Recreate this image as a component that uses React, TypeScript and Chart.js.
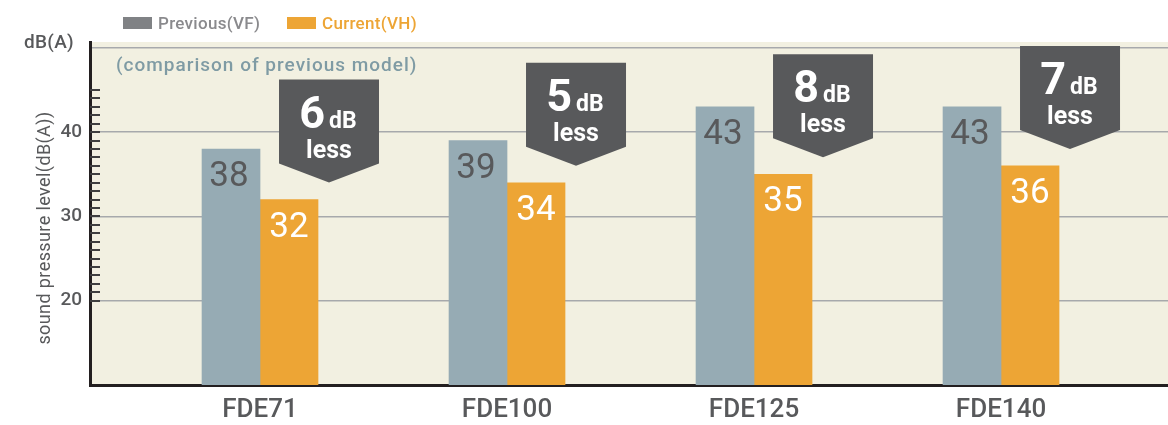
import React, { useEffect, useRef } from "react";
import { Chart, registerables } from "chart.js";

Chart.register(...registerables);

const categories = ["FDE71", "FDE100", "FDE125", "FDE140"];
const previousVF = [38, 39, 43, 43];
const currentVH = [32, 34, 35, 36];
const seriesNames = ["Previous(VF)", "Current(VH)"];
const yTickLabels = [20, 30, 40];
const minorTickRange = [20, 45];
const yUnit = "dB(A)";
const yTitle = "sound pressure level(dB(A))";
const subtitle = "(comparison of previous model)";

const FONT = "Roboto, 'Noto Sans', sans-serif";
const BG = "#f2f0e1";
const GREY_BAR = "#96abb4";
const ORANGE = "#eda535";
const DARK_TEXT = "#58595b";
const BADGE = "#58595b";

const overlayPlugin = {
  id: "overlay",
  beforeDraw(chart: any) {
    const { ctx, chartArea } = chart;
    ctx.save();
    ctx.fillStyle = BG;
    ctx.fillRect(chartArea.left, chartArea.top, chartArea.right - chartArea.left, chartArea.bottom - chartArea.top);
    ctx.restore();
  },
  afterDraw(chart: any) {
    const { ctx, chartArea } = chart;
    const xs = chart.scales.x;
    const ys = chart.scales.y;
    ctx.save();

    // minor ticks on y axis
    ctx.strokeStyle = "#3f3f40";
    ctx.lineWidth = 2;
    for (let v = minorTickRange[0]; v <= minorTickRange[1]; v++) {
      const y = Math.round(ys.getPixelForValue(v));
      ctx.beginPath();
      ctx.moveTo(chartArea.left, y);
      ctx.lineTo(chartArea.left + 10, y);
      ctx.stroke();
    }

    const setSpacing = (s: string) => {
      if ("letterSpacing" in ctx) (ctx as any).letterSpacing = s;
    };

    // legend
    ctx.textBaseline = "alphabetic";
    ctx.textAlign = "left";
    ctx.font = `500 17px ${FONT}`;
    setSpacing("0.3px");
    ctx.fillStyle = "#808285";
    ctx.fillRect(123, 17, 29, 12);
    ctx.fillStyle = "#8a8a8d";
    ctx.fillText(seriesNames[0], 158, 29);
    ctx.fillStyle = ORANGE;
    ctx.fillRect(287, 17, 29, 12);
    ctx.fillText(seriesNames[1], 322, 29);

    // unit label
    setSpacing("0.3px");
    ctx.font = `500 19px ${FONT}`;
    ctx.fillStyle = DARK_TEXT;
    ctx.fillText(yUnit, 24, 48);

    // subtitle
    setSpacing("1px");
    ctx.font = `500 19px ${FONT}`;
    ctx.fillStyle = "#7f9ba4";
    ctx.fillText(subtitle, 116, 71);

    // y title
    ctx.save();
    setSpacing("0.4px");
    ctx.translate(45, 228);
    ctx.rotate(-Math.PI / 2);
    ctx.textAlign = "center";
    ctx.textBaseline = "middle";
    ctx.font = `18px ${FONT}`;
    ctx.fillStyle = DARK_TEXT;
    ctx.fillText(yTitle, 0, 0);
    ctx.restore();
    setSpacing("0px");

    // bar value labels
    ctx.textAlign = "center";
    ctx.textBaseline = "alphabetic";
    ctx.font = `35px ${FONT}`;
    [0, 1].forEach((d) => {
      const meta = chart.getDatasetMeta(d);
      const vals = d === 0 ? previousVF : currentVH;
      meta.data.forEach((bar: any, i: number) => {
        ctx.fillStyle = d === 0 ? DARK_TEXT : "#ffffff";
        ctx.fillText(String(vals[i]), bar.x - (d === 0 ? 2 : 0), bar.y + 37);
      });
    });

    // badges
    categories.forEach((_, i) => {
      const cx = xs.getPixelForValue(i) + 69;
      const tip = ys.getPixelForValue(currentVH[i]) - 17;
      const rb = tip - 19;
      const top = rb - 84;
      const hw = 50;
      ctx.fillStyle = BADGE;
      ctx.beginPath();
      ctx.moveTo(cx - hw, top);
      ctx.lineTo(cx + hw, top);
      ctx.lineTo(cx + hw, rb);
      ctx.lineTo(cx, tip);
      ctx.lineTo(cx - hw, rb);
      ctx.closePath();
      ctx.fill();

      const diff = String(previousVF[i] - currentVH[i]);
      ctx.fillStyle = "#ffffff";
      ctx.textAlign = "left";
      ctx.font = `bold 45px ${FONT}`;
      const nw = ctx.measureText(diff).width;
      ctx.font = `bold 23px ${FONT}`;
      const dw = ctx.measureText("dB").width;
      const gap = 4;
      const sx = cx - (nw + gap + dw) / 2 - 1;
      ctx.font = `bold 45px ${FONT}`;
      ctx.fillText(diff, sx, top + 48);
      ctx.font = `bold 23px ${FONT}`;
      ctx.fillText("dB", sx + nw + gap, top + 48);
      ctx.textAlign = "center";
      ctx.font = `bold 25px ${FONT}`;
      ctx.fillText("less", cx, top + 78);
    });

    ctx.restore();
  },
};

export default function App() {
  const ref = useRef<HTMLCanvasElement | null>(null);
  useEffect(() => {
    if (!ref.current) return;
    const chart = new Chart(ref.current, {
      type: "bar",
      data: {
        datasets: [
          {
            label: seriesNames[0],
            data: previousVF.map((v, i) => ({ x: i, y: v })),
            backgroundColor: GREY_BAR,
            barThickness: 58,
          },
          {
            label: seriesNames[1],
            data: currentVH.map((v, i) => ({ x: i, y: v })),
            backgroundColor: ORANGE,
            barThickness: 58,
          },
        ],
      },
      options: {
        responsive: false,
        animation: false,
        layout: { padding: { top: 42, left: 0, right: 0, bottom: 0 } },
        plugins: { legend: { display: false }, tooltip: { enabled: false } },
        scales: {
          x: {
            type: "linear",
            offset: false,
            min: -0.6883,
            max: 3.676,
            z: 1,
            grid: { display: false, drawTicks: false },
            border: { display: true, color: "#231f20", width: 3 },
            ticks: {
              stepSize: 1,
              includeBounds: false,
              autoSkip: false,
              maxRotation: 0,
              padding: 10,
              color: DARK_TEXT,
              font: { family: FONT, size: 26, weight: "500" },
              callback: (v: any) => (Number.isInteger(v) && categories[v] ? categories[v] : ""),
            },
            afterFit: (s: any) => {
              s.height = 40;
            },
          },
          y: {
            type: "linear",
            min: 10,
            max: 50.7,
            grid: {
              drawTicks: false,
              lineWidth: 1.5,
              color: (c: any) => (c.tick && c.tick.value === 10 ? "rgba(0,0,0,0)" : "#a7a9ac"),
            },
            border: { display: true, color: "#231f20", width: 3 },
            ticks: {
              stepSize: 10,
              includeBounds: false,
              padding: 8,
              color: DARK_TEXT,
              font: { family: FONT, size: 19, weight: "500" },
              callback: (v: any) => (yTickLabels.includes(v) ? String(v) : ""),
            },
            afterFit: (s: any) => {
              s.width = 90;
            },
          },
        },
      },
      plugins: [overlayPlugin],
    } as any);
    return () => chart.destroy();
  }, []);
  return (
    <div style={{ position: "fixed", left: 0, top: 0, width: 1168, height: 425 }}>
      <canvas ref={ref} width={1168} height={425} style={{ display: "block" }} />
    </div>
  );
}
